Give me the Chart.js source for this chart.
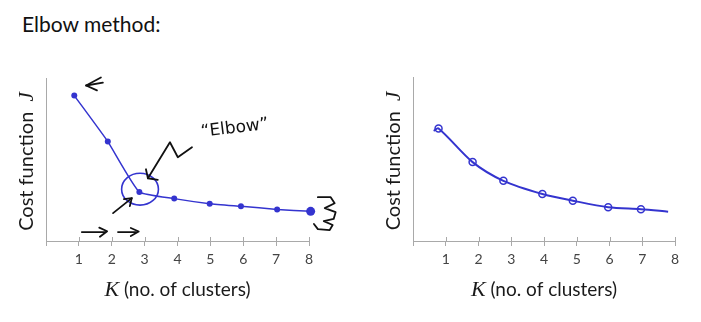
<!DOCTYPE html>
<html lang="en">
<head>
<meta charset="UTF-8">
<title>Elbow method</title>
<script src="https://cdn.jsdelivr.net/npm/chart.js@4"></script>
<style>
  body { margin: 0; background: #fff; }
  #wrap { position: relative; width: 701px; height: 322px; overflow: hidden; }
  h2 { position: absolute; left: 22px; top: 13px; margin: 0; font: 400 21px/21px Lato, sans-serif; color: #111; }
  canvas { position: absolute; top: 0; }
  #leftPlot { left: 0; }
  #rightPlot { left: 350px; }
</style>
</head>
<body>
<div id="wrap">
  <h2>Elbow method:</h2>
  <canvas id="leftPlot" width="350" height="322"></canvas>
  <canvas id="rightPlot" width="351" height="322"></canvas>
</div>
<script>
// left plot: clear elbow at K = 3
const elbowK = [0.86, 1.88, 2.84, 3.90, 4.98, 5.93, 7.03, 8.05];
const elbowJ = [8.92, 6.10, 3.01, 2.60, 2.29, 2.13, 1.94, 1.82];

// right plot: smooth decrease, first and last entries are just the pen stroke ends
const smoothK = [0.63, 0.78, 1.82, 2.76, 3.95, 4.88, 5.96, 6.96, 7.79];
const smoothJ = [6.72, 6.86, 4.81, 3.67, 2.87, 2.46, 2.06, 1.94, 1.79];

const kTicks = [1, 2, 3, 4, 5, 6, 7, 8];

// pen notes on the left plot, in (K, J) units
const noteStrokes = [
  [[1.67, 10.03], [1.22, 9.54], [1.55, 9.24]],
  [[1.22, 9.54], [1.73, 9.72]],
  [[4.44, 5.75], [4.01, 5.14], [3.77, 6.06], [3.10, 3.85]],
  [[3.04, 4.40], [3.10, 3.85], [3.40, 3.75]],
  [[2.04, 1.71], [2.61, 2.63]],
  [[2.37, 2.57], [2.61, 2.63], [2.55, 2.14]],
  [[1.09, 0.55], [1.80, 0.55]],
  [[1.62, 0.82], [1.86, 0.60], [1.64, 0.26]],
  [[2.19, 0.55], [2.74, 0.55]],
  [[2.58, 0.80], [2.82, 0.58], [2.58, 0.31]],
  [[8.27, 2.69], [8.66, 2.69], [8.78, 2.32], [8.48, 2.02], [8.81, 1.77], [8.75, 1.35],
   [8.45, 1.22], [8.72, 0.98], [8.63, 0.67], [8.27, 0.73], [8.15, 1.04]]
];
const elbowRing = { k: 2.86, j: 3.18, rk: 0.56, rj: 0.98 };
const elbowNote = { k: 5.74, j: 6.91, text: '\u201CElbow\u201D' };

const INK = '#3434cf';
const AXIS = '#a9a9a9';
const SANS = 'Lato, sans-serif';

function toXY(chart, k, j) {
  return [chart.scales.x.getPixelForValue(k), chart.scales.y.getPixelForValue(j)];
}

// axis titles with an italic serif symbol, plus the short tick stubs above the x axis
const axisDecor = {
  id: 'axisDecor',
  afterDraw(chart) {
    const ctx = chart.ctx;
    const a = chart.chartArea;
    const xs = chart.scales.x;
    ctx.save();
    ctx.strokeStyle = AXIS;
    ctx.lineWidth = 1;
    xs.ticks.forEach(t => {
      const px = Math.round(xs.getPixelForValue(t.value)) + 0.5;
      ctx.beginPath();
      ctx.moveTo(px, a.bottom - 4);
      ctx.lineTo(px, a.bottom);
      ctx.stroke();
    });

    function mixed(parts, cx, cy) {
      let w = 0;
      parts.forEach(p => { ctx.font = p.font; p.w = ctx.measureText(p.text).width; w += p.w; });
      let x = cx - w / 2;
      parts.forEach(p => { ctx.font = p.font; ctx.fillText(p.text, x, cy); x += p.w; });
    }
    ctx.fillStyle = '#1a1a1a';
    ctx.textBaseline = 'alphabetic';
    mixed([
      { text: 'K', font: 'italic 22px "Liberation Serif", serif' },
      { text: ' (no. of clusters)', font: '19px ' + SANS }
    ], (a.left + a.right) / 2, a.bottom + 55);

    ctx.translate(a.left - 13, (a.top + a.bottom) / 2 + 2);
    ctx.rotate(-Math.PI / 2);
    mixed([
      { text: 'Cost function  ', font: '20px ' + SANS },
      { text: 'J', font: 'italic 21px "Liberation Serif", serif' }
    ], 0, 0);
    ctx.restore();
  }
};

// hand-drawn notes: ring round the elbow, arrows, label
const penNotes = {
  id: 'penNotes',
  afterDatasetsDraw(chart) {
    const ctx = chart.ctx;
    ctx.save();
    ctx.lineCap = 'round';
    ctx.lineJoin = 'round';

    const [cx, cy] = toXY(chart, elbowRing.k, elbowRing.j);
    const [ex, ey] = toXY(chart, elbowRing.k + elbowRing.rk, elbowRing.j + elbowRing.rj);
    ctx.strokeStyle = INK;
    ctx.lineWidth = 1.6;
    ctx.beginPath();
    ctx.ellipse(cx, cy, Math.abs(ex - cx), Math.abs(cy - ey), 0, 0, Math.PI * 2);
    ctx.stroke();

    ctx.strokeStyle = '#111';
    ctx.lineWidth = 1.8;
    noteStrokes.forEach(stroke => {
      ctx.beginPath();
      stroke.forEach(([k, j], i) => {
        const [px, py] = toXY(chart, k, j);
        if (i === 0) ctx.moveTo(px, py); else ctx.lineTo(px, py);
      });
      ctx.stroke();
    });

    const [tx, ty] = toXY(chart, elbowNote.k, elbowNote.j);
    ctx.translate(tx, ty);
    ctx.rotate(-0.12);
    ctx.fillStyle = '#111';
    ctx.font = '17px "DejaVu Sans", sans-serif';
    ctx.textAlign = 'center';
    ctx.textBaseline = 'middle';
    ctx.fillText(elbowNote.text, 0, 0);
    ctx.restore();
  }
};

function scales() {
  return {
    x: {
      type: 'linear',
      min: 0,
      max: 8,
      afterBuildTicks: s => { s.ticks = [0].concat(kTicks).map(v => ({ value: v })); },
      afterFit: s => { s.height = 81; },
      ticks: {
        callback: v => (v === 0 ? '' : v),
        color: '#444',
        font: { family: SANS, size: 14 },
        padding: 5,
        maxRotation: 0
      },
      grid: { drawOnChartArea: false, color: AXIS, tickLength: 5 },
      border: { color: AXIS, width: 1 }
    },
    y: {
      min: 0,
      max: 10,
      afterFit: s => { s.width = 46; },
      ticks: { display: false },
      grid: { display: false },
      border: { color: AXIS, width: 1 }
    }
  };
}

const common = {
  responsive: false,
  animation: false,
  events: [],
  plugins: { legend: { display: false }, tooltip: { enabled: false } }
};

new Chart(document.getElementById('leftPlot'), {
  type: 'line',
  data: {
    datasets: [{
      data: elbowK.map((k, i) => ({ x: k, y: elbowJ[i] })),
      borderColor: INK,
      backgroundColor: INK,
      borderWidth: 1.5,
      tension: 0.15,
      pointRadius: ctx => (ctx.dataIndex === elbowK.length - 1 ? 4.5 : 3),
      pointBorderWidth: 0,
      clip: false
    }]
  },
  options: Object.assign({}, common, {
    layout: { padding: { left: 0, right: 41, top: 78, bottom: 0 } },
    scales: scales()
  }),
  plugins: [axisDecor, penNotes]
});

new Chart(document.getElementById('rightPlot'), {
  type: 'line',
  data: {
    datasets: [{
      data: smoothK.map((k, i) => ({ x: k, y: smoothJ[i] })),
      borderColor: INK,
      backgroundColor: 'rgba(0,0,0,0)',
      borderWidth: 2,
      tension: 0.3,
      pointRadius: ctx => (ctx.dataIndex === 0 || ctx.dataIndex === smoothK.length - 1 ? 0 : 3.5),
      pointBorderColor: INK,
      pointBorderWidth: 1.5,
      clip: false
    }]
  },
  options: Object.assign({}, common, {
    layout: { padding: { left: 17, right: 26, top: 77, bottom: 0 } },
    scales: scales()
  }),
  plugins: [axisDecor]
});
</script>
</body>
</html>
